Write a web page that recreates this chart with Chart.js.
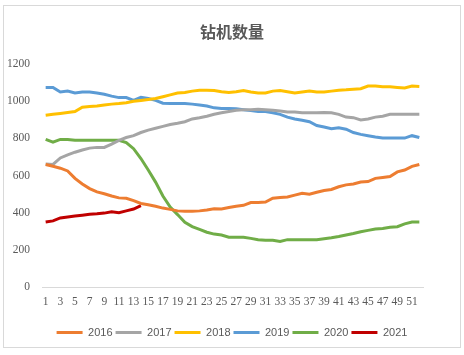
<!DOCTYPE html>
<html>
<head>
<meta charset="utf-8">
<script src="https://cdn.jsdelivr.net/npm/chart.js@4/dist/chart.umd.min.js"></script>
<style>
html,body{margin:0;padding:0;background:#fff;}
#wrap{position:relative;width:464px;height:355px;}
</style>
</head>
<body>
<div id="wrap"><canvas id="c" width="464" height="355"></canvas></div>
<script>
const weeks = Array.from({length: 52}, (_, i) => String(i + 1));
const seriesNames = ['2016', '2017', '2018', '2019', '2020', '2021'];
const y2016 = [660,650,640,625,585,555,530,512,502,490,480,478,465,450,443,435,425,418,410,408,408,410,415,422,420,428,435,440,455,455,458,478,482,485,495,505,500,510,520,525,540,550,555,565,568,585,590,595,620,630,650,660];
const y2017 = [662,660,695,712,726,738,748,752,752,770,790,805,815,832,845,855,865,875,882,890,905,912,920,930,938,945,952,955,955,958,955,952,948,942,942,938,938,938,940,938,930,915,912,900,905,915,920,930,930,930,930,930];
const y2018 = [925,930,935,940,945,968,972,975,980,985,988,992,1000,1005,1010,1015,1025,1035,1045,1048,1055,1060,1060,1058,1052,1048,1052,1058,1050,1045,1045,1055,1058,1052,1045,1050,1055,1050,1050,1055,1060,1062,1065,1068,1082,1082,1078,1078,1075,1072,1082,1080];
const y2019 = [1075,1075,1050,1055,1045,1050,1050,1045,1038,1028,1020,1020,1005,1022,1015,1005,990,988,988,988,985,980,975,965,962,962,960,955,950,945,945,938,930,915,905,898,890,870,862,852,858,850,832,822,815,808,802,802,802,802,815,805];
const y2020 = [795,780,795,795,790,790,790,790,790,790,790,778,745,692,630,565,490,430,390,348,325,310,295,285,280,268,268,268,262,255,252,252,245,255,255,255,255,255,260,265,272,280,288,298,305,312,315,322,325,340,350,350];
const y2021 = [350,356,372,377,382,387,392,394,398,405,400,410,420,438];
const yTicks = [0, 200, 400, 600, 800, 1000, 1200];

const colors = ['#ED7D31', '#A5A5A5', '#FFC000', '#5B9BD5', '#70AD47', '#C00000'];
const allSeries = [y2016, y2017, y2018, y2019, y2020, y2021];

const frame = {
  id: 'frame',
  beforeDraw(chart) {
    const ctx = chart.ctx;
    ctx.save();
    ctx.fillStyle = '#fff';
    ctx.fillRect(0, 0, chart.width, chart.height);
    ctx.strokeStyle = '#d9d9d9';
    ctx.lineWidth = 1;
    ctx.strokeRect(3.5, 5.5, 457, 342);
    ctx.restore();
  }
};

new Chart(document.getElementById('c'), {
  type: 'line',
  data: {
    labels: weeks,
    datasets: allSeries.map((d, i) => ({
      label: seriesNames[i],
      data: d,
      borderColor: colors[i],
      backgroundColor: colors[i],
      borderWidth: 3,
      pointRadius: 0,
      tension: 0,
      fill: false
    }))
  },
  options: {
    responsive: false,
    animation: false,
    layout: { padding: { left: 0, right: 0, top: 0, bottom: 7 } },
    plugins: {
      title: {
        display: true,
        text: '钻机数量',
        color: '#595959',
        font: { family: '"Noto Sans CJK SC"', size: 16, weight: 'bold' },
        padding: { top: 22, bottom: 23 }
      },
      legend: {
        position: 'bottom',
        labels: {
          usePointStyle: true,
          pointStyle: 'line',
          pointStyleWidth: 26,
          boxHeight: 11,
          padding: 3,
          color: '#595959',
          font: { family: '"Liberation Sans"', size: 11 }
        }
      },
      tooltip: { enabled: false }
    },
    scales: {
      x: {
        offset: true,
        grid: { display: false, drawTicks: false },
        border: { display: true, color: '#d9d9d9', width: 1 },
        ticks: {
          autoSkip: false,
          maxRotation: 0,
          minRotation: 0,
          padding: 8,
          color: '#595959',
          font: { family: '"Liberation Serif"', size: 11.5 },
          callback: function(v, i) { return i % 2 === 0 ? weeks[i] : ''; }
        },
        afterFit: s => { s.height = 37; }
      },
      y: {
        min: 0,
        max: 1200,
        grid: { display: false, drawTicks: false },
        border: { display: false },
        afterBuildTicks: s => { s.ticks = yTicks.map(v => ({ value: v })); },
        ticks: {
          padding: 12,
          color: '#595959',
          font: { family: '"Liberation Serif"', size: 11.5 },
          callback: v => String(v)
        },
        afterFit: s => { s.width = 42; }
      },
      rightSpace: {
        type: 'linear',
        position: 'right',
        display: true,
        grid: { display: false, drawTicks: false },
        border: { display: false },
        ticks: { display: false },
        afterFit: s => { s.width = 41; }
      }
    }
  },
  plugins: [frame]
});
</script>
</body>
</html>
